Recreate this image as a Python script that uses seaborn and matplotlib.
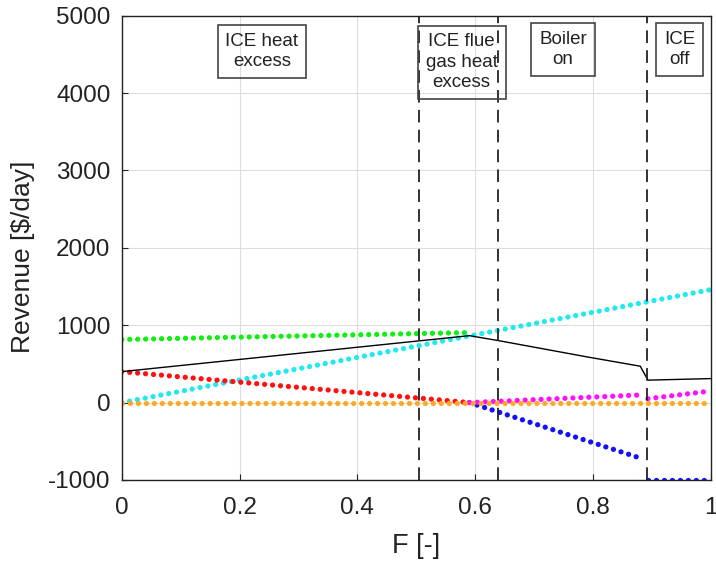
import matplotlib
matplotlib.use("Agg")
import matplotlib.pyplot as plt
import seaborn as sns

# --- DATA ---
F_green = [0.0, 0.59]
rev_green = [815, 905]

F_cyan = [0.0, 1.0]
rev_cyan = [0, 1460]

F_red = [0.0, 0.59]
rev_red = [400, 0]

F_orange = [0.0, 1.0]
rev_orange = [0, 0]

F_blue_a = [0.59, 0.885]
rev_blue_a = [0, -730]
F_blue_b = [0.893, 1.0]
rev_blue_b = [-1000, -1000]

F_magenta_a = [0.59, 0.885]
rev_magenta_a = [0, 100]
F_magenta_b = [0.893, 1.0]
rev_magenta_b = [50, 150]

F_total = [0.0, 0.59, 0.64, 0.79, 0.88, 0.893, 1.0]
rev_total = [400, 865, 800, 590, 470, 290, 310]

F_bounds = [0.504, 0.638, 0.891]

region_labels = ["ICE heat\nexcess", "ICE flue\ngas heat\nexcess", "Boiler\non", "ICE\noff"]
region_x = [0.238, 0.577, 0.749, 0.947]
region_y = [4540, 4400, 4560, 4560]

x_ticks = [0, 0.2, 0.4, 0.6, 0.8, 1.0]
x_ticklabels = ["0", "0.2", "0.4", "0.6", "0.8", "1"]
y_ticks = [-1000, 0, 1000, 2000, 3000, 4000, 5000]
# -------------------------------------

sns.set_style("whitegrid")
plt.rcParams["font.family"] = ["Liberation Sans", "DejaVu Sans"]
plt.rcParams["axes.unicode_minus"] = False

fig = plt.figure(figsize=(7.16, 5.62), dpi=100)
ax = fig.add_axes([0.170, 0.146, 0.823, 0.826])

dot = dict(linestyle=(0, (0.01, 1.5)), linewidth=3.8, dash_capstyle="round")

sns.lineplot(x=F_green, y=rev_green, color="#11ee11", ax=ax, **dot)
sns.lineplot(x=F_cyan, y=rev_cyan, color="#22e8f0", ax=ax, **dot)
sns.lineplot(x=F_red, y=rev_red, color="#ff1111", ax=ax, **dot)
sns.lineplot(x=F_blue_a, y=rev_blue_a, color="#1111ff", ax=ax, **dot)
sns.lineplot(x=F_blue_b, y=rev_blue_b, color="#1111ff", ax=ax, **dot)
sns.lineplot(x=F_magenta_a, y=rev_magenta_a, color="#ff11ff", ax=ax, **dot)
sns.lineplot(x=F_magenta_b, y=rev_magenta_b, color="#ff11ff", ax=ax, **dot)
sns.lineplot(x=F_orange, y=rev_orange, color="#ffaa22", ax=ax, **dot)
sns.lineplot(x=F_total, y=rev_total, color="black", linewidth=1.0, ax=ax)

for fb in F_bounds:
    ax.axvline(fb, color="#222222", linestyle=(0, (7, 4)), linewidth=1.3)

for lab, tx, ty in zip(region_labels, region_x, region_y):
    ax.text(tx, ty, lab, ha="center", va="center", fontsize=13.5, color="#222222",
            linespacing=1.25,
            bbox=dict(boxstyle="square,pad=0.42", fill=False, edgecolor="#444444", linewidth=1.2))

ax.set_xlim(0, 1)
ax.set_ylim(-1000, 5000)
ax.set_xticks(x_ticks)
ax.set_xticklabels(x_ticklabels)
ax.set_yticks(y_ticks)
ax.grid(True, color="#dddddd", linewidth=0.8)
for s in ax.spines.values():
    s.set_color("#222222")
    s.set_linewidth(1.0)
ax.tick_params(direction="in", length=4, width=0.8, labelsize=17.5, colors="#222222",
               bottom=True, left=True)
ax.tick_params(axis="x", pad=12)
ax.tick_params(axis="y", pad=8)
ax.set_xlabel("F [-]", fontsize=19.5, color="#222222", labelpad=10)
ax.set_ylabel(r"Revenue [\$/day]", fontsize=19, color="#222222")
ax.yaxis.set_label_coords(-0.147, 0.48)

fig.savefig("out.png", dpi=100)
